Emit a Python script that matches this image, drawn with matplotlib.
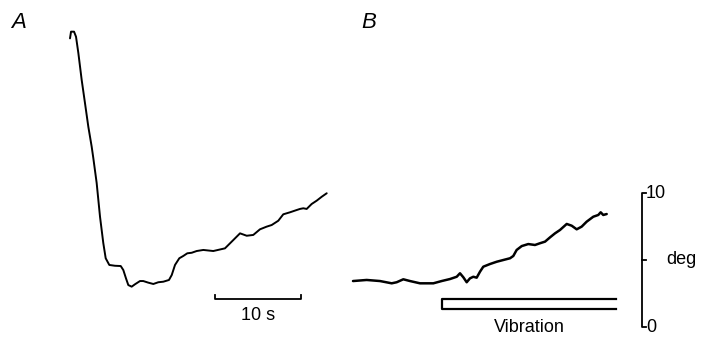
import matplotlib
matplotlib.use("Agg")
import matplotlib.pyplot as plt
import numpy as np

# Panel A trace: time (s) from trace start, angle (deg)
a_time = [0, 0.12, 0.47, 0.70, 0.97, 1.36, 1.74, 2.13, 2.52, 2.71, 3.10, 3.49, 3.87, 4.15,
          4.57, 5.23, 5.90, 6.20, 6.51, 6.78, 7.17, 7.56, 8.14, 8.52, 9.10, 9.69, 10.27,
          10.85, 11.51, 11.83, 12.21, 12.71, 13.17, 13.64, 14.15, 14.73, 15.50, 16.66,
          18.02, 18.99, 19.77, 20.55, 21.31, 22.09, 22.87, 23.45, 24.22, 24.80, 25.58,
          26.36, 26.74, 27.13, 27.52, 28.10, 28.69, 29.27, 29.85]
a_deg = [21.54, 22.04, 22.04, 21.66, 20.45, 18.43, 16.72, 14.95, 13.46, 12.61, 10.75, 8.23,
         6.27, 5.13, 4.63, 4.57, 4.55, 4.25, 3.63, 3.13, 3.01, 3.19, 3.43, 3.43, 3.31,
         3.21, 3.34, 3.38, 3.51, 3.88, 4.63, 5.13, 5.30, 5.50, 5.54, 5.67, 5.75, 5.67,
         5.87, 6.49, 6.99, 6.81, 6.87, 7.29, 7.49, 7.61, 7.93, 8.41, 8.56, 8.73, 8.81,
         8.86, 8.81, 9.18, 9.43, 9.72, 9.98]

# Panel B trace
b_time = [0, 1.59, 3.14, 4.50, 5.08, 5.85, 6.63, 7.79, 9.34, 10.31, 11.28, 12.06, 12.44,
          12.83, 13.22, 13.60, 13.99, 14.38, 14.77, 15.15, 15.93, 16.71, 17.48, 18.26,
          18.64, 19.03, 19.62, 20.38, 21.16, 21.74, 22.33, 22.91, 23.49, 24.07, 24.85,
          25.43, 26.01, 26.59, 27.17, 27.94, 28.52, 28.80, 29.10, 29.50]
b_deg = [3.43, 3.51, 3.43, 3.26, 3.34, 3.56, 3.43, 3.26, 3.26, 3.43, 3.58, 3.75, 4.01,
         3.71, 3.34, 3.63, 3.75, 3.68, 4.13, 4.50, 4.70, 4.87, 5.0, 5.13, 5.30, 5.75,
         6.04, 6.19, 6.12, 6.25, 6.37, 6.69, 6.99, 7.24, 7.69, 7.56, 7.29, 7.49, 7.86,
         8.23, 8.36, 8.56, 8.36, 8.43]

vib_start, vib_end = 10.35, 30.6   # vibration period in panel B (s)
panel_labels = ["A", "B"]

# layout (pixel scale: 8.6 px/s, 13.4 px/deg; 0 deg at y=327 px)
W, H = 708, 338
pxs, pxd, y0 = 8.6, 13.4, 327
fig = plt.figure(figsize=(W / 100, H / 100), dpi=100)
ax = fig.add_axes([0, 0, 1, 1])
ax.set_xlim(0, W / pxs)
ax.set_ylim((y0 - H) / pxd, y0 / pxd)
ax.axis("off")

offA = 70 / pxs
offB = 353 / pxs
ax.plot(np.array(a_time) + offA, a_deg, color="black", lw=1.4,
        solid_joinstyle="round", solid_capstyle="round")
ax.plot(np.array(b_time) + offB, b_deg, color="black", lw=1.8,
        solid_joinstyle="round", solid_capstyle="round")

# vibration bar
vy_top, vy_bot = 2.09, 1.34
ax.plot([vib_end + offB, vib_start + offB, vib_start + offB, vib_end + offB],
        [vy_top, vy_top, vy_bot, vy_bot], color="black", lw=1.6)

font = ["Liberation Sans", "DejaVu Sans"]
fs = 13
ax.text((vib_start + vib_end) / 2 + offB, -0.05, "Vibration", ha="center", va="center",
        fontsize=fs, family=font)

# time scale bar (10 s)
sx0 = 215 / pxs
sy = (y0 - 299) / pxd
tk = 4 / pxd
ax.plot([sx0, sx0, sx0 + 10, sx0 + 10], [sy + tk, sy, sy, sy + tk], color="black", lw=1.3)
ax.text(sx0 + 5, (y0 - 316) / pxd, "10 s", ha="center", va="center", fontsize=fs,
        family=font)

# degree scale bar (0-10 deg)
bx = 642 / pxs
tkx = 4 / pxs
ax.plot([bx + tkx, bx, bx, bx + tkx], [10, 10, 0, 0], color="black", lw=1.3)
ax.plot([bx, bx + tkx], [5, 5], color="black", lw=1.3)
ax.text(bx + tkx, 10, "10", ha="left", va="center", fontsize=fs, family=font)
ax.text(bx + tkx, 0, "0", ha="left", va="center", fontsize=fs, family=font)
ax.text(666 / pxs, 5, "deg", ha="left", va="center", fontsize=fs, family=font)

# panel labels
ax.text(11 / pxs, (y0 - 23) / pxd, panel_labels[0], ha="left", va="center", fontsize=16,
        style="italic", family=font)
ax.text(361 / pxs, (y0 - 23) / pxd, panel_labels[1], ha="left", va="center", fontsize=16,
        style="italic", family=font)

fig.savefig("out.png", dpi=100)
